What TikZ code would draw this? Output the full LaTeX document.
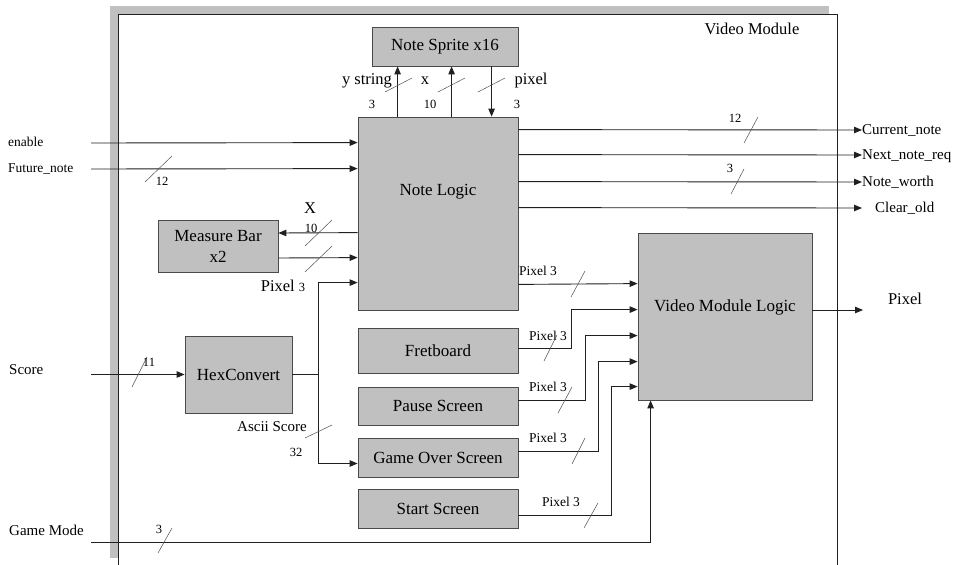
\documentclass[tikz,border=0pt]{standalone}
\usepackage{fontspec}
\setmainfont{Liberation Serif}
\usetikzlibrary{arrows.meta}
\definecolor{boxfill}{HTML}{C0C0C0}
\definecolor{boxline}{HTML}{4A4A4A}
\definecolor{wirec}{HTML}{202020}
\definecolor{tickc}{HTML}{505050}
\begin{document}
\begin{tikzpicture}[x=1pt,y=-1pt,
  blk/.style={draw=boxline, fill=boxfill, line width=0.8pt, inner sep=0pt,
    font=\fontsize{17}{21}\selectfont},
  boxtext/.style={inner sep=0pt, font=\fontsize{17}{21}\selectfont},
  wire/.style={draw=wirec, line width=0.9pt},
  sig/.style={wire, -{Triangle[length=8pt,width=6.5pt]}},
  tick/.style={draw=tickc, line width=0.5pt},
  biglbl/.style={inner sep=0pt, font=\fontsize{16.5}{18}\selectfont},
  lbl/.style={inner sep=0pt, font=\fontsize{15}{17}\selectfont, text height=10pt, text depth=2pt},
  smlbl/.style={inner sep=0pt, font=\fontsize{13.5}{15}\selectfont, text height=9pt, text depth=2pt},
  pxlbl/.style={inner sep=0pt, font=\fontsize{13.5}{15}\selectfont},
  numlbl/.style={inner sep=0pt, font=\fontsize{12.5}{14}\selectfont}
]
\useasboundingbox (0,0) rectangle (956,565);

% module frame with its shadow
\fill[boxfill] (110,6) rectangle (829,558);
\fill[white] (118,14) rectangle (837,565);
\draw[draw=wirec, line width=0.8pt] (118,566) -- (118,14) -- (837,14) -- (837,566);
\node[biglbl] (title) at (752,29) {Video Module};

% blocks
\node[blk, minimum width=146pt, minimum height=39pt] (sprite) at (445,46.5) {Note Sprite x16};
\node[blk, minimum width=160pt, minimum height=193pt] (logic) at (438,213.5) {};
\node[boxtext] (logictext) at (438,192) {Note Logic};
\node[blk, align=center, minimum width=120pt, minimum height=52pt] (mbar) at (218,246) {Measure Bar\\x2};
\node[blk, minimum width=107pt, minimum height=77pt] (hex) at (238.5,374.5) {HexConvert};
\node[blk, minimum width=160pt, minimum height=45pt] (fret) at (438,350.5) {Fretboard};
\node[blk, minimum width=160pt, minimum height=38pt] (pause) at (438,406) {Pause Screen};
\node[blk, minimum width=160pt, minimum height=39pt] (over) at (438,457.5) {Game Over Screen};
\node[blk, minimum width=160pt, minimum height=39pt] (start) at (438,508.5) {Start Screen};
\node[blk, minimum width=174pt, minimum height=167pt] (vml) at (725,316.5) {};
\node[boxtext] (vmltext) at (725,307) {Video Module Logic};

% external inputs
\node[smlbl, anchor=west] (en) at (8,143) {enable};
\node[smlbl, anchor=west] (fut) at (8,169) {Future\_note};
\node[lbl, anchor=west] (score) at (9,370) {Score};
\node[lbl, anchor=west] (gmode) at (9,531) {Game Mode};
\coordinate (enIn) at (91,143);
\coordinate (futIn) at (91,169);
\coordinate (scIn) at (91,374.5);
\coordinate (gmIn) at (91,542);

\draw[sig] (enIn) -- ([yshift=-26pt]logic.north west);
\draw[sig] (futIn) -- ([yshift=-52pt]logic.north west);
\draw[tick] (145,182) -- (172,156);
\node[numlbl] (futw) at (162,181) {12};

\draw[sig] (scIn) -- (hex.west);
\draw[tick] (132,387) -- (147,357);
\node[numlbl] (scw) at (149,362) {11};

\draw[sig] (gmIn) -| ([xshift=13pt]vml.south west);
\draw[tick] (158,553) -- (172,528);
\node[numlbl] (gmw) at (159,529) {3};

% note sprite links
\draw[sig] ([xshift=40pt]logic.north west) -- ([xshift=26pt]sprite.south west);
\draw[sig] ([xshift=94pt]logic.north west) -- ([xshift=80pt]sprite.south west);
\draw[sig] ([xshift=120pt]sprite.south west) -- ([xshift=134pt]logic.north west);
\draw[tick] (385,92) -- (412,78);
\draw[tick] (438,92) -- (465,78);
\draw[tick] (478,92) -- (505,78);
\node[biglbl] (ystr) at (367,81) {y string};
\node[biglbl] (xl) at (425,81) {x};
\node[biglbl] (pxl) at (531,81) {pixel};
\node[numlbl] (yw) at (372,104) {3};
\node[numlbl] (xw) at (430,104) {10};
\node[numlbl] (pw) at (517,104) {3};

% note logic outputs
\node[lbl, anchor=west] (cur) at (862,130) {Current\_note};
\node[lbl, anchor=west] (nxt) at (862,155) {Next\_note\_req};
\node[lbl, anchor=west] (worth) at (862,182) {Note\_worth};
\node[lbl, anchor=west] (clr) at (875,208) {Clear\_old};
\draw[sig] ([yshift=-13pt]logic.north east) -- (cur.west);
\draw[sig] ([yshift=-38pt]logic.north east) -- (nxt.west);
\draw[sig] ([yshift=-65pt]logic.north east) -- (worth.west);
\draw[sig] ([yshift=-91pt]logic.north east) -- ([xshift=-13pt]clr.west);
\draw[tick] (744,143) -- (758,117);
\node[numlbl] (curw) at (735,118) {12};
\draw[tick] (731,194) -- (744,169);
\node[numlbl] (worthw) at (730,168) {3};

% measure bar links
\draw[sig] ([yshift=-116pt]logic.north west) -- ([yshift=13pt]mbar.east);
\draw[sig] ([yshift=-12pt]mbar.east) -- ([yshift=-141pt]logic.north west);
\draw[tick] (305,246) -- (332,220);
\draw[tick] (305,272) -- (332,246);
\node[biglbl] (mx) at (310,208) {X};
\node[numlbl] (mxw) at (311,228) {10};
\node[inner sep=0pt] (mpx) at (283,286) {\fontsize{16.5}{18}\selectfont Pixel \fontsize{12.5}{14}\selectfont 3};

% score path
\draw[wire] (hex.east) -- ++(26,0) coordinate (jn);
\draw[sig] (jn) |- ([yshift=-166pt]logic.north west);
\draw[sig] (jn) |- ([yshift=-6pt]over.west);
\draw[tick] (305,438) -- (332,425);
\node[lbl] (ascii) at (272,427) {Ascii Score};
\node[numlbl] (asciiw) at (296,452) {32};

% pixel streams into the video logic
\draw[sig] ([yshift=26pt]logic.south east) -- ([yshift=-51pt]vml.north west);
\draw[sig] ([yshift=2pt]fret.east) -- ++(53,0) |- ([yshift=-77pt]vml.north west);
\draw[sig] ([yshift=6pt]pause.east) -- ++(67,0) |- ([yshift=-103pt]vml.north west);
\draw[sig] ([yshift=6.5pt]over.east) -- ++(80,0) |- ([yshift=-129pt]vml.north west);
\draw[sig] ([yshift=-7pt]start.east) -- ++(93,0) |- ([yshift=-154pt]vml.north west);
\node[pxlbl] (p0) at (538,271) {Pixel 3};
\node[pxlbl] (p1) at (548,336) {Pixel 3};
\node[pxlbl] (p2) at (548,387) {Pixel 3};
\node[pxlbl] (p3) at (548,438) {Pixel 3};
\node[pxlbl] (p4) at (561,502) {Pixel 3};
\draw[tick] (571,297) -- (585,271);
\draw[tick] (544,361) -- (557,335);
\draw[tick] (558,413) -- (572,387);
\draw[tick] (572,464) -- (585,438);
\draw[tick] (584,528) -- (598,503);

% video output
\coordinate (pxOut) at (863,310);
\draw[sig] ([yshift=6.5pt]vml.east) -- (pxOut);
\node[biglbl] (pxo) at (905,299) {Pixel};
\end{tikzpicture}
\end{document}
